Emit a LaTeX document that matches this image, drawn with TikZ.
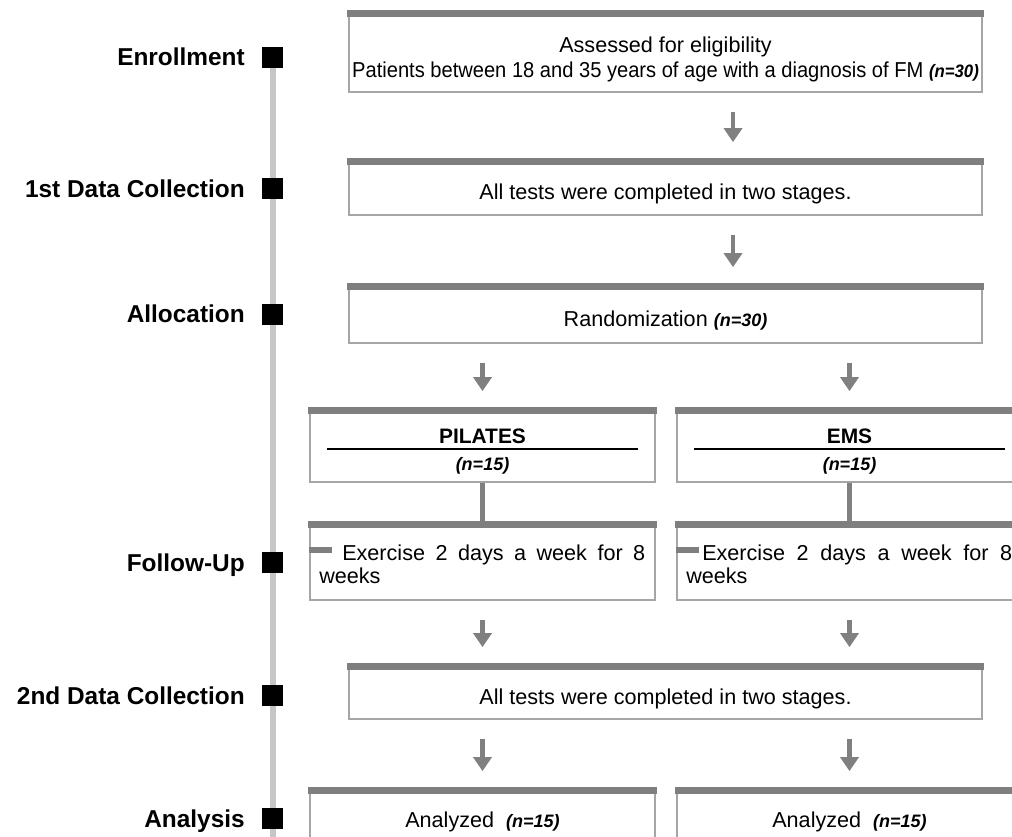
\documentclass[tikz,border=0pt]{standalone}
\usepackage{fontspec}
\setmainfont{Liberation Sans}
\usetikzlibrary{arrows.meta,fit,backgrounds}
\definecolor{barcol}{HTML}{7F7F7F}
\definecolor{bordcol}{HTML}{A6A6A6}
\definecolor{arrcol}{HTML}{808080}
\definecolor{tlcol}{HTML}{C6C6C6}
\newcommand{\nn}[1]{{\fontsize{13.5}{16}\selectfont\bfseries\itshape #1}}
\tikzset{
 box/.style={draw=bordcol, line width=1.3pt, inner sep=0pt, fill=white},
 arr/.style={draw=arrcol, line width=3.3pt, -{Triangle[width=13.5pt,length=10.5pt]}, shorten <=14.25pt, shorten >=12.75pt},
 conn/.style={draw=arrcol, line width=3.5pt},
 tabst/.style={draw=barcol, line width=4.5pt},
 tline/.style={draw=tlcol, line width=4.5pt},
 marker/.style={fill=black, minimum size=15.75pt, inner sep=0pt},
 lab/.style={anchor=base east, inner sep=0pt, font=\fontsize{18.3}{22}\selectfont\bfseries},
 txt/.style={anchor=base, inner sep=0pt, font=\fontsize{16.2}{19}\selectfont},
 head/.style={anchor=base, inner sep=0pt, font=\fontsize{15.7}{18}\selectfont\bfseries},
 rule/.style={draw=black, line width=1.4pt}
}
\begin{document}
\begin{tikzpicture}[x=0.75pt,y=-0.75pt]
\useasboundingbox (0,0) rectangle (1012,837);
\clip (0,0) rectangle (1012,837);
% timeline markers
\node[marker] (m1) at (272.5,57.5) {};
\node[marker] (m2) at (272.5,188.5) {};
\node[marker] (m3) at (272.5,314.5) {};
\node[marker] (m4) at (272.5,562) {};
\node[marker] (m5) at (272.5,695.5) {};
\node[marker] (m6) at (272.5,818) {};
\coordinate (tlend) at (272.5,860);
\begin{scope}[on background layer]
\fill[white] (0,0) rectangle (1012,837);
\draw[tline] (m1.center) -- (tlend);
\end{scope}
% stage labels
\node[lab] (l1) at (245,66) {Enrollment};
\node[lab] (l2) at (245,198) {1st Data Collection};
\node[lab] (l3) at (245,323) {Allocation};
\node[lab] (l4) at (245,571) {Follow-Up};
\node[lab] (l5) at (245,704) {2nd Data Collection};
\node[lab] (l6) at (245,827) {Analysis};
% boxes
\node[box, fit={(349,12) (982,92)}] (b1) {};
\node[box, fit={(349,160) (982,215)}] (b2) {};
\node[box, fit={(349,285) (982,343)}] (b3) {};
\node[box, fit={(310,409) (655,482)}] (p1) {};
\node[box, fit={(677,409) (1022,482)}] (e1) {};
\node[box, fit={(310,523) (655,600)}] (p2) {};
\node[box, fit={(677,523) (1022,600)}] (e2) {};
\node[box, fit={(349,665) (982,719)}] (b5) {};
\node[box, fit={(310,789) (655,900)}] (p3) {};
\node[box, fit={(677,789) (1022,900)}] (e3) {};
\foreach \bx in {b1,b2,b3,p1,e1,p2,e2,b5,p3,e3}
  \fill[barcol] ([xshift=-0.65pt,yshift=0.65pt]\bx.north west) rectangle ([xshift=0.65pt,yshift=-4.6pt]\bx.north east);
% texts
\node[txt] (t1a) at (665.5,53) {Assessed for eligibility};
\node[txt] (t1b) at (665.5,78) {\resizebox{470pt}{\height}{Patients between 18 and 35 years of age with a diagnosis of FM \nn{(n=30)}}};
\node[txt] (t2) at (665.5,200) {All tests were completed in two stages.};
\node[txt] (t3) at (665.5,327) {Randomization \nn{(n=30)}};
\node[head] (tp1) at (482.5,443) {PILATES};
\node[txt] (tp2) at (482.5,470) {\nn{(n=15)}};
\node[head] (te1) at (849.5,443) {EMS};
\node[txt] (te2) at (849.5,470) {\nn{(n=15)}};
\draw[rule] (327,449) -- (638,449);
\draw[rule] (694,449) -- (1005,449);
\node[txt, anchor=base west] (tp3) at (342,560) {\makebox[227.25pt][s]{Exercise 2 days a week for 8}};
\node[txt, anchor=base west] (tp4) at (319,583) {weeks};
\node[txt, anchor=base west] (te3) at (702,560) {\makebox[232.5pt][s]{Exercise 2 days a week for 8}};
\node[txt, anchor=base west] (te4) at (686,583) {weeks};
\draw[tabst] (p2.west |- 0,550) -- ++(23,0);
\draw[tabst] (e2.west |- 0,550) -- ++(23,0);
\node[txt] (t5) at (665.5,704) {All tests were completed in two stages.};
\node[txt] (tp5) at (482.5,827) {Analyzed\ \ \nn{(n=15)}};
\node[txt] (te5) at (849.5,827) {Analyzed\ \ \nn{(n=15)}};
% arrows
\coordinate (ax) at (733,0);
\draw[arr] (b1.south -| ax) -- (b2.north -| ax);
\draw[arr] (b2.south -| ax) -- (b3.north -| ax);
\draw[arr] (b3.south -| p1.north) -- (p1.north);
\draw[arr] (b3.south -| e1.north) -- (e1.north);
\draw[conn] (p1.south) -- (p2.north);
\draw[conn] (e1.south) -- (e2.north);
\draw[arr] (p2.south) -- (b5.north -| p2.south);
\draw[arr] (e2.south) -- (b5.north -| e2.south);
\draw[arr] (b5.south -| p3.north) -- (p3.north);
\draw[arr] (b5.south -| e3.north) -- (e3.north);
\end{tikzpicture}
\end{document}
